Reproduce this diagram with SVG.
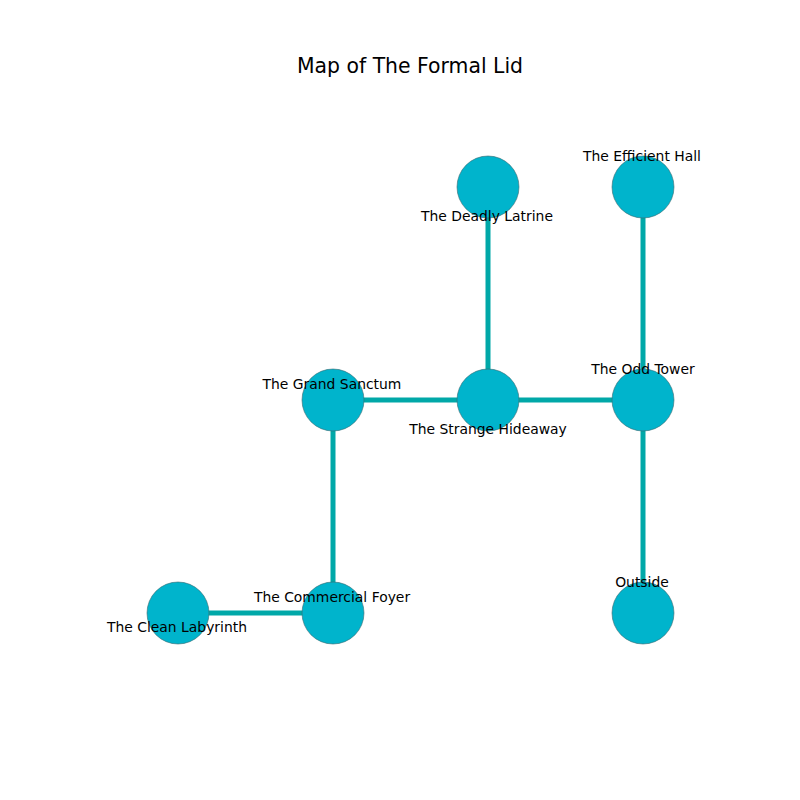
<svg xmlns="http://www.w3.org/2000/svg" width="800" height="800" viewBox="0 0 800 800">
<style>
.node{fill:#00b4cc;stroke:#3a6a70;stroke-width:0.6}
.edge{stroke:#00a8a8;stroke-width:5;fill:none}
.lbl{font-family:"DejaVu Sans",sans-serif;font-size:13.9px;fill:#000;text-anchor:middle;dominant-baseline:central}
.title{font-family:"DejaVu Sans",sans-serif;font-size:20.4px;fill:#000;text-anchor:middle;dominant-baseline:central}
</style>
<rect width="800" height="800" fill="#fff"/>
<text class="title" x="410" y="66">Map of The Formal Lid</text>
<g id="connectors">
<line class="edge" x1="488" y1="187" x2="488" y2="400"/>
<line class="edge" x1="643" y1="187" x2="643" y2="400"/>
<line class="edge" x1="333" y1="400" x2="643" y2="400"/>
<line class="edge" x1="643" y1="400" x2="643" y2="613"/>
<line class="edge" x1="333" y1="400" x2="333" y2="613"/>
<line class="edge" x1="178" y1="613" x2="333" y2="613"/>
</g>
<g id="node-deadly-latrine"><circle class="node" cx="488" cy="187" r="31"/></g>
<g id="node-efficient-hall"><circle class="node" cx="643" cy="187" r="31"/></g>
<g id="node-grand-sanctum"><circle class="node" cx="333" cy="400" r="31"/></g>
<g id="node-strange-hideaway"><circle class="node" cx="488" cy="400" r="31"/></g>
<g id="node-odd-tower"><circle class="node" cx="643" cy="400" r="31"/></g>
<g id="node-clean-labyrinth"><circle class="node" cx="178" cy="613" r="31"/></g>
<g id="node-commercial-foyer"><circle class="node" cx="333" cy="613" r="31"/></g>
<g id="node-outside"><circle class="node" cx="643" cy="613" r="31"/></g>
<g id="labels">
<text class="lbl" x="487" y="216">The Deadly Latrine</text>
<text class="lbl" x="642" y="156">The Efficient Hall</text>
<text class="lbl" x="332" y="384">The Grand Sanctum</text>
<text class="lbl" x="488" y="429">The Strange Hideaway</text>
<text class="lbl" x="643" y="369">The Odd Tower</text>
<text class="lbl" x="177" y="627">The Clean Labyrinth</text>
<text class="lbl" x="332" y="597">The Commercial Foyer</text>
<text class="lbl" x="642" y="582">Outside</text>
</g>
</svg>
